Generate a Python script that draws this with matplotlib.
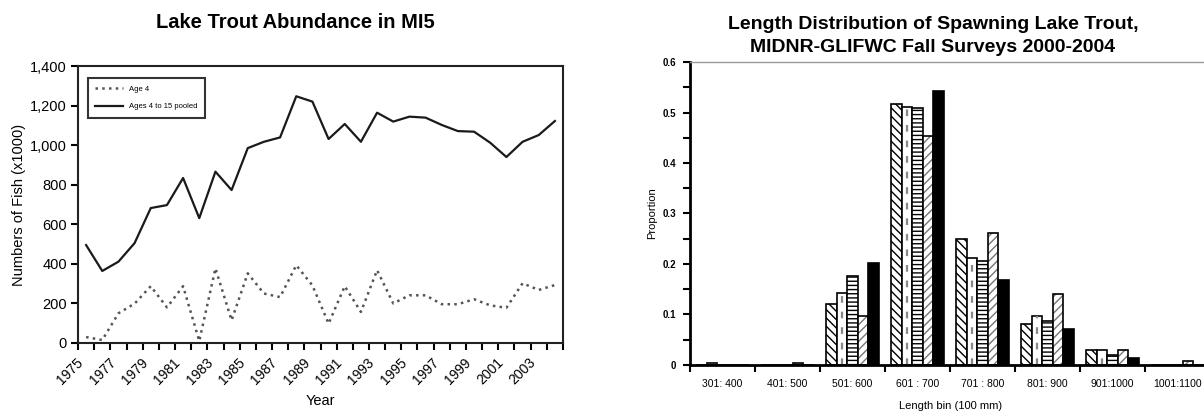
import numpy as np
import matplotlib
matplotlib.use('Agg')
import matplotlib.pyplot as plt
from matplotlib.ticker import FuncFormatter, MultipleLocator

plt.rcParams['font.family'] = ['Liberation Sans', 'DejaVu Sans']

# left chart data
years = list(range(1975, 2005))
age4 = [30, 15, 150, 199, 287, 180, 287, 10, 377, 115, 352, 250, 232, 393, 291,
        98, 287, 157, 368, 200, 241, 241, 196, 196, 221, 190, 178, 302, 268, 293]
pooled = [495, 364, 411, 505, 682, 697, 834, 631, 866, 773, 985, 1017, 1039, 1247, 1220,
          1031, 1107, 1017, 1164, 1119, 1144, 1139, 1102, 1071, 1068, 1012, 940, 1017, 1051, 1122]
year_labels = [str(y) for y in range(1975, 2004, 2)]

# right chart data
bins = ['301: 400', '401: 500', '501: 600', '601 : 700', '701 : 800',
        '801: 900', '901:1000', '1001:1100']
s2000 = [0, 0, 0.120, 0.516, 0.249, 0.081, 0.030, 0]
s2001 = [0.004, 0, 0.142, 0.510, 0.212, 0.098, 0.030, 0]
s2002 = [0, 0, 0.177, 0.509, 0.205, 0.088, 0.019, 0]
s2003 = [0, 0.004, 0.098, 0.453, 0.262, 0.140, 0.030, 0.007]
s2004 = [0, 0, 0.202, 0.542, 0.169, 0.071, 0.014, 0]

fig = plt.figure(figsize=(12.04, 4.12), dpi=100)

# ---------- left: abundance ----------
ax1 = fig.add_axes([0.0648, 0.1675, 0.4028, 0.6723])
ax1.plot(years, age4, color='#555555', lw=1.8, linestyle=(0, (1, 1.7)), label='Age 4')
ax1.plot(years, pooled, color='#1a1a1a', lw=1.6, label='Ages 4 to 15 pooled')
ax1.set_xlim(1974.5, 2004.5)
ax1.set_ylim(0, 1400)
ax1.yaxis.set_major_locator(MultipleLocator(200))
ax1.yaxis.set_major_formatter(FuncFormatter(lambda v, p: f'{int(v):,}'))
ax1.set_xticks(np.arange(1974.5, 2005, 1), minor=True)
ax1.set_xticks(range(1975, 2004, 2))
ax1.set_xticklabels(year_labels, rotation=45, ha='right', va='top')
ax1.tick_params(axis='x', which='major', length=0, pad=9, labelsize=10)
ax1.tick_params(axis='x', which='minor', length=5, width=1.5, direction='out')
ax1.tick_params(axis='y', length=5, width=1.5, direction='out', labelsize=10.5, pad=3)
for s in ax1.spines.values():
    s.set_linewidth(1.5)
    s.set_color('#222222')
ax1.set_ylabel('Numbers of Fish (x1000)', fontsize=10.5, labelpad=3)
ax1.set_xlabel('Year', fontsize=10.5, labelpad=5)
leg = ax1.legend(loc='upper left', fontsize=5.5, frameon=True, fancybox=False,
                 edgecolor='black', handlelength=3.6, borderpad=1.0, labelspacing=1.3,
                 bbox_to_anchor=(0.012, 0.97))
leg.get_frame().set_linewidth(1.5)

fig.text(295 / 1204, 1 - 23 / 412, 'Lake Trout Abundance in MI5', ha='center', va='center',
         fontsize=14.5, fontweight='bold')

# ---------- right: length distribution ----------
ax2 = fig.add_axes([0.5731, 0.1141, 0.432, 0.7354])
x = np.arange(len(bins))
w = 0.162
offs = (np.arange(5) - 2) * w

ax2.bar(x + offs[0], s2000, w, color='white', edgecolor='black', hatch='\\\\\\\\', lw=0)
ax2.bar(x + offs[0], s2000, w, fill=False, edgecolor='black', lw=1.2)

b2 = ax2.bar(x + offs[1], s2001, w, color='white', edgecolor='black', lw=1.2)
for r, h in zip(b2, s2001):
    if h > 0.02:
        ax2.vlines(r.get_x() + r.get_width() / 2, 0, h, colors='#888888', lw=1.6,
                   linestyles=(0, (3, 4)))

ax2.bar(x + offs[2], s2002, w, color='white', edgecolor='black', hatch='----', lw=0)
ax2.bar(x + offs[2], s2002, w, fill=False, edgecolor='black', lw=1.2)

ax2.bar(x + offs[3], s2003, w, color='white', edgecolor='#777777', hatch='////', lw=0)
ax2.bar(x + offs[3], s2003, w, fill=False, edgecolor='black', lw=1.2)

ax2.bar(x + offs[4], s2004, w, color='black', edgecolor='black', lw=1.2)

ax2.set_xlim(-0.5, len(bins) - 0.5)
ax2.set_ylim(0, 0.6)
ax2.yaxis.set_major_locator(MultipleLocator(0.1))
ax2.yaxis.set_minor_locator(MultipleLocator(0.05))
ax2.yaxis.set_major_formatter(FuncFormatter(lambda v, p: '0' if v == 0 else f'{v:.1f}'))
ax2.set_xticks(x)
ax2.set_xticklabels(bins)
ax2.set_xticks(np.arange(-0.5, len(bins), 1), minor=True)
ax2.tick_params(axis='x', which='major', length=0, pad=10, labelsize=7.5)
ax2.tick_params(axis='x', which='minor', length=5, width=1.5, direction='out')
ax2.tick_params(axis='y', which='both', length=5, width=1.5, direction='out', labelsize=7, pad=5)
for lab in ax2.get_yticklabels():
    lab.set_fontweight('bold')
ax2.spines['right'].set_visible(False)
ax2.spines['top'].set_color('#999999')
ax2.spines['top'].set_linewidth(1.0)
ax2.spines['left'].set_linewidth(2)
ax2.spines['bottom'].set_linewidth(2)
ax2.set_ylabel('Proportion', fontsize=8, labelpad=4)
ax2.set_xlabel('Length bin (100 mm)', fontsize=8, labelpad=9)

fig.text(933 / 1204, 1 - 36 / 412,
         'Length Distribution of Spawning Lake Trout,\nMIDNR-GLIFWC Fall Surveys 2000-2004',
         ha='center', va='center', fontsize=14, fontweight='bold', linespacing=1.5)

fig.savefig('out.png', dpi=100)
